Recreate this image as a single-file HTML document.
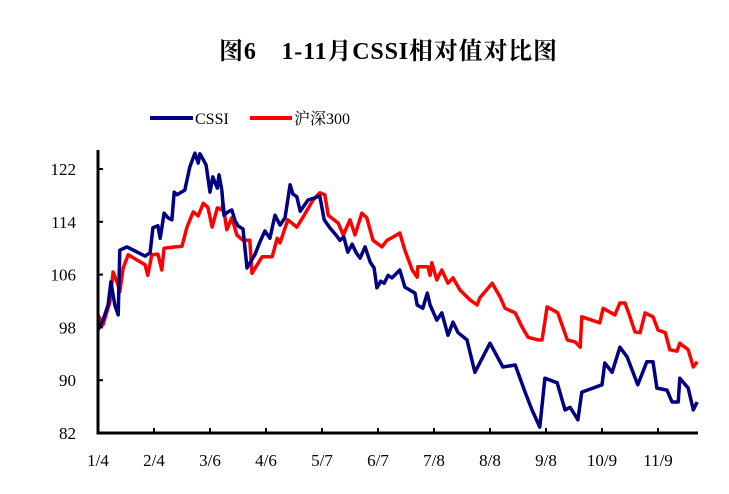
<!DOCTYPE html>
<html><head><meta charset="utf-8"><style>
body{margin:0;background:#fff;width:729px;height:489px;overflow:hidden}
svg text{font-family:"Liberation Serif","Noto Serif CJK SC",serif;fill:#000}
</style></head><body>
<svg id="chart" width="729" height="489">
<text x="388" y="59" text-anchor="middle" font-size="24" font-weight="bold" textLength="338">图6　1-11月CSSI相对值对比图</text>
<g>
<line x1="150" y1="118" x2="193" y2="118" stroke="#000080" stroke-width="4"/>
<text x="195" y="124" font-size="16">CSSI</text>
<line x1="250" y1="118" x2="292" y2="118" stroke="#ff0000" stroke-width="4"/>
<text x="294" y="124" font-size="16">沪深300</text>
</g>
<g id="plot"></g>
</svg>
<script>
const yTicks=[82,90,98,106,114,122];
const xLabels=["1/4","2/4","3/6","4/6","5/7","6/7","7/8","8/8","9/8","10/9","11/9"];
const cssiT=[0,.09,.18,.23,.30,.36,.39,.52,.84,.93,.98,1.07,1.11,1.18,1.25,1.32,1.36,1.41,1.55,1.64,1.73,1.79,1.82,1.88,1.93,2.0,2.05,2.13,2.16,2.21,2.25,2.32,2.39,2.45,2.5,2.59,2.66,2.80,2.89,2.98,3.07,3.16,3.25,3.34,3.43,3.48,3.55,3.61,3.75,3.86,3.96,4.04,4.14,4.25,4.32,4.39,4.46,4.54,4.61,4.68,4.77,4.86,4.93,4.98,5.05,5.11,5.18,5.25,5.39,5.48,5.66,5.70,5.80,5.88,5.93,6.05,6.14,6.25,6.34,6.43,6.59,6.73,7.0,7.23,7.45,7.63,7.75,7.89,7.98,8.20,8.34,8.43,8.57,8.64,9.0,9.05,9.18,9.32,9.45,9.64,9.80,9.91,9.98,10.16,10.25,10.36,10.39,10.54,10.63,10.70];
const cssiV=[97.6,99.1,101.4,104.9,101.4,99.9,109.7,110.2,108.8,109.3,113.1,113.4,111.5,115.3,114.6,114.3,118.5,118.1,118.8,122.3,124.4,122.9,124.3,123.4,122.6,118.5,120.8,119.1,121.1,118.8,115.0,115.5,115.8,114.1,113.4,112.9,107.0,109.0,110.9,112.6,111.5,115.0,113.5,114.6,119.6,118.2,117.8,115.6,117.3,117.6,117.9,114.3,113.1,112.0,111.2,111.7,109.4,110.6,109.3,108.5,110.2,107.9,107.0,104.0,105.0,104.7,105.9,105.5,106.7,104.1,103.2,101.4,100.9,103.2,101.4,99.1,100.2,96.8,98.8,97.2,96.1,91.2,95.6,92.0,92.3,88.1,85.5,82.9,90.3,89.6,85.5,85.9,84.0,88.2,89.3,92.6,91.2,95.0,93.5,89.3,92.8,92.8,88.8,88.5,86.7,86.7,90.3,88.8,85.5,86.7];
const hsT=[0,.09,.21,.27,.36,.39,.45,.54,.84,.89,.96,1.07,1.14,1.18,1.38,1.50,1.59,1.70,1.79,1.88,1.96,2.04,2.13,2.21,2.23,2.30,2.39,2.48,2.59,2.71,2.75,2.93,3.11,3.20,3.25,3.39,3.55,3.66,3.84,3.96,4.05,4.11,4.29,4.38,4.50,4.59,4.71,4.80,4.91,5.07,5.16,5.27,5.39,5.48,5.61,5.70,5.71,5.89,5.93,5.96,6.05,6.14,6.25,6.34,6.46,6.64,6.77,6.82,7.04,7.18,7.27,7.45,7.57,7.68,7.86,7.93,8.02,8.13,8.21,8.38,8.52,8.61,8.64,8.96,9.02,9.23,9.32,9.41,9.50,9.59,9.68,9.77,9.91,10.0,10.13,10.21,10.34,10.39,10.54,10.63,10.70];
const hsV=[99.9,98.4,101.8,106.4,104.4,103.4,107.0,109.0,107.5,105.9,109.0,109.1,106.7,110.0,110.2,110.3,113.2,115.5,114.9,116.8,116.2,113.2,116.1,115.8,116.8,112.8,114.6,112.0,111.2,111.2,106.2,108.7,108.7,111.5,110.8,114.3,113.2,114.7,117.3,118.4,118.1,115.0,113.8,112.0,114.3,112.0,115.3,114.6,111.2,110.2,111.2,111.7,112.3,109.7,106.7,105.6,107.2,107.2,105.9,107.8,105.2,106.7,104.7,105.5,103.7,102.2,101.4,102.5,104.7,102.6,100.9,100.2,98.1,96.5,96.1,96.1,101.1,100.6,100.2,96.1,95.8,95.0,99.6,98.7,100.9,99.9,101.7,101.7,99.6,97.3,97.2,100.2,99.6,97.6,97.2,94.6,94.4,95.6,94.6,92.0,92.8];
const NS="http://www.w3.org/2000/svg";
const X0=98,XM=56,Y0=433,YU=6.6;
const xs=t=>X0+t*XM, ys=v=>Y0-(v-82)*YU;
const g=document.getElementById('plot');
function mk(tag,a){const e=document.createElementNS(NS,tag);for(const k in a)e.setAttribute(k,a[k]);g.appendChild(e);return e;}
function line(T,V,color,name){
 const p=mk('polyline',{points:T.map((t,i)=>xs(t).toFixed(1)+','+ys(V[i]).toFixed(1)).join(' '),fill:'none',stroke:color,'stroke-width':3.5,'stroke-linejoin':'round'});
 
 
}
line(hsT,hsV,'#ff0000','hs300-line');
line(cssiT,cssiV,'#000080','cssi-line');
const ya=mk('line',{x1:X0,y1:150,x2:X0,y2:Y0+1.5,stroke:'#000','stroke-width':3});


const xa=mk('line',{x1:X0-1.5,y1:Y0,x2:698,y2:Y0,stroke:'#000','stroke-width':3});


yTicks.forEach(v=>{
 const tk=mk('line',{x1:X0,y1:ys(v),x2:X0+5,y2:ys(v),stroke:'#000','stroke-width':2});
 
 
 const t=mk('text',{x:76,y:ys(v)+6,'text-anchor':'end','font-size':17});
 t.textContent=v;
 
 
});
xLabels.forEach((l,i)=>{
 const tk=mk('line',{x1:xs(i),y1:Y0,x2:xs(i),y2:Y0-5,stroke:'#000','stroke-width':2});
 
 
 const t=mk('text',{x:xs(i),y:466,'text-anchor':'middle','font-size':17});
 t.textContent=l;
 
 
});
</script>
</body></html>
